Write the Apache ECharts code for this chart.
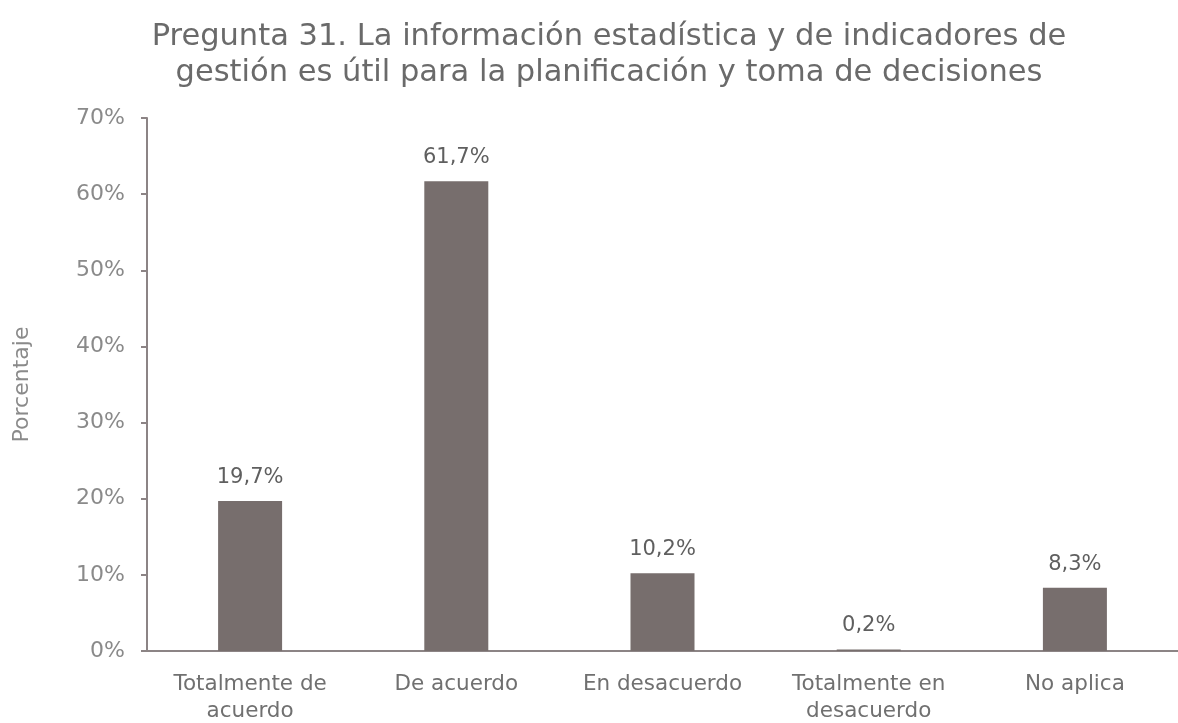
<!DOCTYPE html>
<html>
<head>
<meta charset="utf-8">
<script src="https://cdn.jsdelivr.net/npm/echarts@6/dist/echarts.min.js"></script>
<style>
  html, body { margin: 0; padding: 0; background: #fff; }
  #grafico { width: 1178px; height: 723px; }
</style>
</head>
<body>
<div id="grafico"></div>
<script>
// datos del gráfico
var categorias = ['Totalmente de\nacuerdo', 'De acuerdo', 'En desacuerdo', 'Totalmente en\ndesacuerdo', 'No aplica'];
var porcentajes = [19.7, 61.7, 10.2, 0.2, 8.3];

var chartDom = document.getElementById('grafico');
var myChart = echarts.init(chartDom);
var fuente = '"DejaVu Sans", sans-serif';
var option;

option = {
    animation: false,
    title: {
        text: 'Pregunta 31. La información estadística y de indicadores de\ngestión es útil para la planificación y toma de decisiones',
        left: 604,
        textAlign: 'center',
        top: 14,
        textStyle: {
            fontFamily: fuente,
            fontSize: 30.5,
            fontWeight: 'normal',
            color: '#6a6a6a',
            lineHeight: 36
        }
    },
    grid: {
        left: 147,
        right: 0,
        top: 118,
        bottom: 72,
        containLabel: false,
        outerBoundsMode: 'none'
    },
    xAxis: {
        type: 'category',
        data: categorias,
        axisLine: { lineStyle: { color: '#8c8485', width: 2 } },
        axisTick: { show: false },
        axisLabel: {
            interval: 0,
            hideOverlap: false,
            fontFamily: fuente,
            fontSize: 21.5,
            color: '#707070',
            margin: 20,
            lineHeight: 27
        }
    },
    yAxis: {
        type: 'value',
        min: 0,
        max: 70,
        interval: 10,
        name: 'Porcentaje',
        nameLocation: 'middle',
        nameGap: 114,
        nameTextStyle: {
            fontFamily: fuente,
            fontSize: 22,
            color: '#8a8a8a'
        },
        splitLine: { show: false },
        axisLine: { show: true, lineStyle: { color: '#8c8485', width: 2 } },
        axisTick: { show: true, length: 6, lineStyle: { color: '#8c8485', width: 2 } },
        axisLabel: {
            fontFamily: fuente,
            fontSize: 22,
            color: '#8a8a8a',
            margin: 22,
            formatter: '{value}%'
        }
    },
    series: [{
        type: 'bar',
        data: porcentajes,
        barWidth: 64,
        itemStyle: { color: '#776e6d' },
        label: {
            show: true,
            position: 'top',
            distance: 13,
            fontFamily: fuente,
            fontSize: 21,
            color: '#5f5f5f',
            formatter: function(p) {
                return p.value.toFixed(1).replace('.', ',') + '%';
            }
        }
    }]
};

option && myChart.setOption(option);
</script>
</body>
</html>
